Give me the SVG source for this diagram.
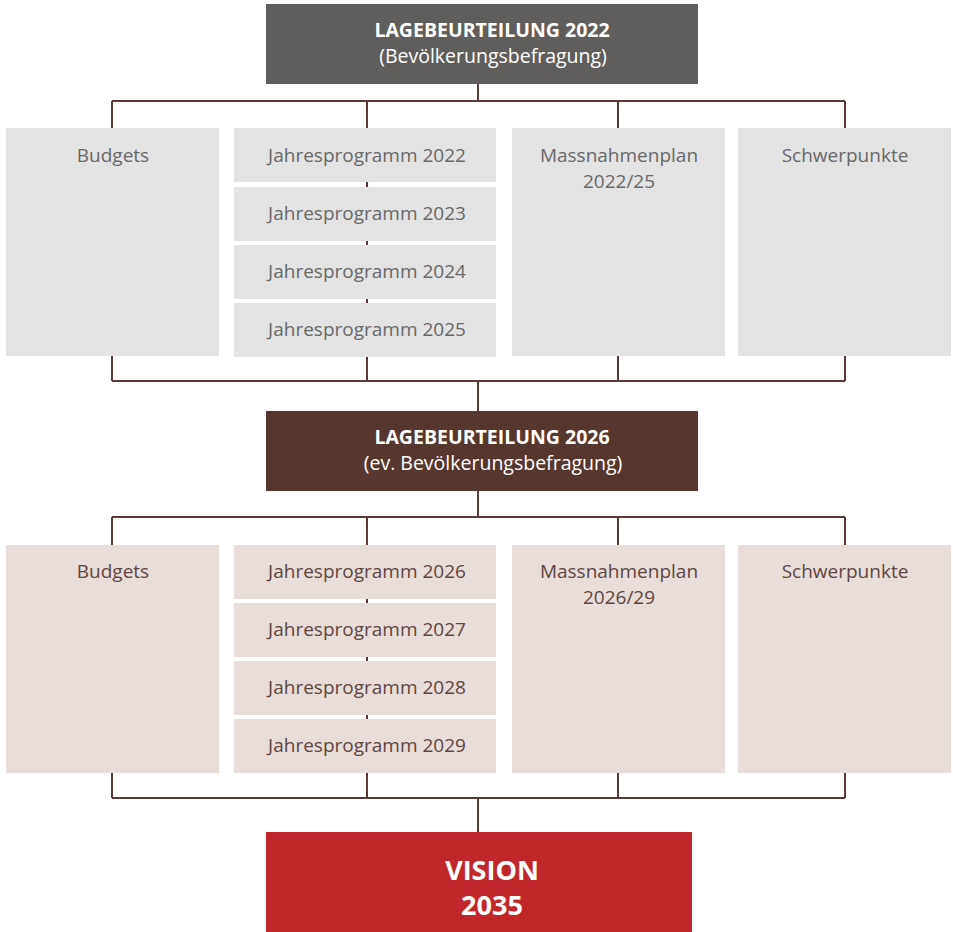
<svg xmlns="http://www.w3.org/2000/svg" width="953" height="932" viewBox="0 0 953 932">
<style>
.ln{stroke:#5b3a35;stroke-width:2;fill:none}
.g1{fill:#e3e3e3}
.g2{fill:#e8ddd9}
text{font-family:"Open Sans","Liberation Sans",sans-serif;text-anchor:middle}
.t1{font-size:19px;fill:#686868}
.t2{font-size:19px;fill:#5e4541}
.hd{font-size:19.5px;font-weight:bold;fill:#ffffff}
.sb{font-size:19.5px;fill:#ffffff}
.vs{font-size:27px;font-weight:bold;fill:#ffffff}
</style>
<rect width="953" height="932" fill="#ffffff"/>
<g id="connectors">
<path class="ln" d="M478 84V101M112 101H845M112 101V381M367 101V381M618 101V381M845 101V381M112 381H845M478 381V411"/>
<path class="ln" d="M478 491V517M112 517H845M112 517V798M367 517V798M618 517V798M845 517V798M112 798H845M478 798V832"/>
</g>
<g id="lage2022">
<rect x="266" y="4" width="432" height="80" fill="#5f5e5c"/>
<text class="hd" x="492" y="37">LAGEBEURTEILUNG 2022</text>
<text class="sb" x="493" y="63">(Bevölkerungsbefragung)</text>
</g>
<g id="budgets1"><rect class="g1" x="6" y="128" width="213" height="228"/><text class="t1" x="113" y="162">Budgets</text></g>
<g id="jp2022"><rect class="g1" x="234" y="128" width="262" height="54"/><text class="t1" x="367" y="162">Jahresprogramm 2022</text></g>
<g id="jp2023"><rect class="g1" x="234" y="187" width="262" height="54"/><text class="t1" x="367" y="220">Jahresprogramm 2023</text></g>
<g id="jp2024"><rect class="g1" x="234" y="245" width="262" height="54"/><text class="t1" x="367" y="278">Jahresprogramm 2024</text></g>
<g id="jp2025"><rect class="g1" x="234" y="303" width="262" height="54"/><text class="t1" x="367" y="336">Jahresprogramm 2025</text></g>
<g id="mp1"><rect class="g1" x="512" y="128" width="213" height="228"/><text class="t1" x="619" y="162">Massnahmenplan</text><text class="t1" x="619" y="188">2022/25</text></g>
<g id="sp1"><rect class="g1" x="738" y="128" width="213" height="228"/><text class="t1" x="845" y="162">Schwerpunkte</text></g>
<g id="lage2026">
<rect x="266" y="411" width="432" height="80" fill="#56372f"/>
<text class="hd" x="492" y="444">LAGEBEURTEILUNG 2026</text>
<text class="sb" x="493" y="470">(ev. Bevölkerungsbefragung)</text>
</g>
<g id="budgets2"><rect class="g2" x="6" y="545" width="213" height="228"/><text class="t2" x="113" y="578">Budgets</text></g>
<g id="jp2026"><rect class="g2" x="234" y="545" width="262" height="54"/><text class="t2" x="367" y="578">Jahresprogramm 2026</text></g>
<g id="jp2027"><rect class="g2" x="234" y="603" width="262" height="54"/><text class="t2" x="367" y="636">Jahresprogramm 2027</text></g>
<g id="jp2028"><rect class="g2" x="234" y="661" width="262" height="54"/><text class="t2" x="367" y="694">Jahresprogramm 2028</text></g>
<g id="jp2029"><rect class="g2" x="234" y="719" width="262" height="54"/><text class="t2" x="367" y="752">Jahresprogramm 2029</text></g>
<g id="mp2"><rect class="g2" x="512" y="545" width="213" height="228"/><text class="t2" x="619" y="578">Massnahmenplan</text><text class="t2" x="619" y="604">2026/29</text></g>
<g id="sp2"><rect class="g2" x="738" y="545" width="213" height="228"/><text class="t2" x="845" y="578">Schwerpunkte</text></g>
<g id="vision">
<rect x="266" y="832" width="426" height="100" fill="#c1272a"/>
<text class="vs" x="492" y="880">VISION</text>
<text class="vs" x="492" y="915">2035</text>
</g>
</svg>
